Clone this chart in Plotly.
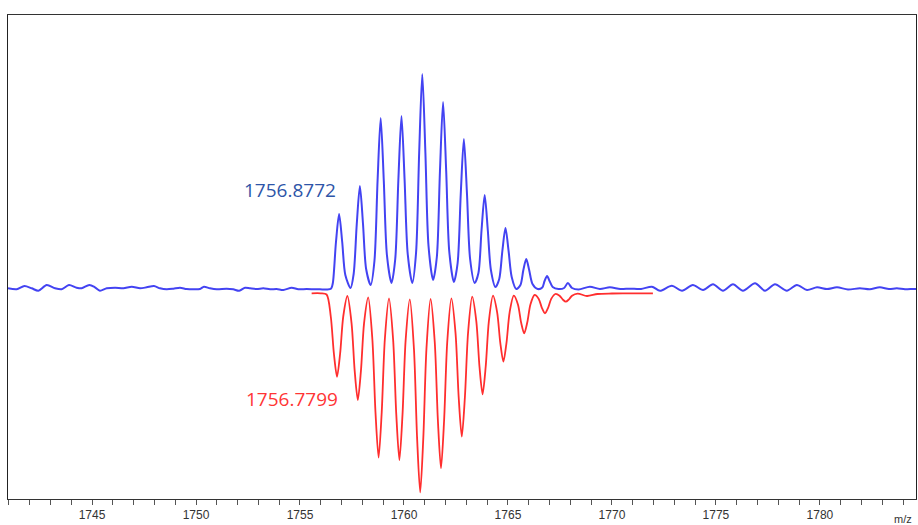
import plotly.graph_objects as go

# Blue (measured) spectrum: m/z and intensity (arbitrary units, baseline = 0)
blue_mz = [
    1740.96, 1741.38, 1741.75, 1742.10, 1742.42, 1742.82, 1743.22, 1743.54, 1743.89, 1744.26,
    1744.50, 1744.87, 1745.14, 1745.38, 1745.71, 1746.11, 1746.51, 1746.91, 1747.31, 1747.63,
    1747.98, 1748.27, 1748.59, 1748.91, 1749.23, 1749.55, 1749.87, 1750.19, 1750.38, 1750.67,
    1751.00, 1751.47, 1751.79, 1752.08, 1752.36, 1752.60, 1752.92, 1753.24, 1753.56, 1753.88,
    1754.20, 1754.60, 1754.92, 1755.32, 1755.72, 1755.96, 1756.30, 1756.50,
    1756.58, 1756.73, 1756.88, 1757.03, 1757.18, 1757.43,
    1757.58, 1757.73, 1757.88, 1758.03, 1758.18, 1758.40,
    1758.58, 1758.73, 1758.88, 1759.03, 1759.18, 1759.40,
    1759.58, 1759.73, 1759.88, 1760.03, 1760.18, 1760.40,
    1760.58, 1760.73, 1760.88, 1761.03, 1761.18, 1761.40,
    1761.58, 1761.73, 1761.88, 1762.03, 1762.18, 1762.40,
    1762.58, 1762.73, 1762.88, 1763.03, 1763.18, 1763.40,
    1763.58, 1763.73, 1763.88, 1764.03, 1764.18, 1764.40,
    1764.58, 1764.73, 1764.88, 1765.03, 1765.18, 1765.40,
    1765.60, 1765.74, 1765.88, 1766.02, 1766.18, 1766.43,
    1766.65, 1766.76, 1766.88, 1767.00, 1767.15, 1767.43,
    1767.70, 1767.88, 1768.08, 1768.40, 1768.94, 1769.42, 1769.90, 1770.40,
    1770.87, 1771.40, 1771.92, 1772.31, 1772.88, 1773.37, 1773.89, 1774.38, 1774.86, 1775.34,
    1775.82, 1776.30, 1776.88, 1777.36, 1777.84, 1778.41, 1778.89, 1779.38, 1779.86, 1780.34,
    1780.82, 1781.35, 1781.92, 1782.40, 1782.88, 1783.32, 1783.70, 1784.09, 1784.47, 1784.62,
]
blue_int = [
    0.7, -0.3, 3.0, 0.7, -1.7, 4.0, 0.7, -0.3, 4.0, 1.3,
    0.7, 4.0, 1.7, -1.7, 0.7, 1.3, 0.7, 2.3, 0.7, 1.7,
    3.0, 0.7, -0.3, 0.3, 1.3, 0.0, -0.3, 0.0, 2.3, 0.7,
    -0.3, 0.3, -0.3, -1.7, 1.3, 0.7, 0.0, 0.7, -0.3, 0.0,
    -1.0, 1.3, -0.3, 0.0, -0.3, -0.3, -0.5, 0.5,
    6, 47, 75, 47, 14, 1,
    15, 65, 103, 65, 20, 4,
    28, 108, 171, 108, 34, 6,
    30, 109, 173, 109, 35, 6,
    36, 136, 215, 136, 43, 9,
    32, 118, 187, 118, 37, 7,
    26, 95, 150, 95, 30, 6,
    16, 59, 94, 59, 19, 2,
    10, 38, 61, 38, 12, 0,
    4, 19, 30, 19, 5, 0,
    1.5, 8, 13, 8, 2, 0,
    1, 6, 1, -0.5, 2.3, 0.0, 1.7, 0.0,
    0.3, 0.0, 2.3, -1.7, 3.3, -1.7, 4.0, -1.0, 4.7, -1.7,
    4.7, -1.7, 5.7, -1.7, 4.7, -1.7, 4.0, -1.0, 1.7, 0.0,
    1.7, -0.5, 0.7, -0.3, 1.7, 0.0, 0.7, -0.3, 0.0, 0.0,
]

# Red (theoretical) spectrum, drawn mirrored below the measured one
red_mz = [
    1755.56, 1756.00, 1756.28,
    1756.48, 1756.63, 1756.78, 1756.93, 1757.08, 1757.28,
    1757.48, 1757.63, 1757.78, 1757.93, 1758.08, 1758.28,
    1758.48, 1758.63, 1758.78, 1758.93, 1759.08, 1759.28,
    1759.48, 1759.63, 1759.78, 1759.93, 1760.08, 1760.28,
    1760.48, 1760.63, 1760.78, 1760.93, 1761.08, 1761.28,
    1761.48, 1761.63, 1761.78, 1761.93, 1762.08, 1762.28,
    1762.48, 1762.63, 1762.78, 1762.93, 1763.08, 1763.28,
    1763.48, 1763.63, 1763.78, 1763.93, 1764.08, 1764.28,
    1764.48, 1764.63, 1764.78, 1764.93, 1765.08, 1765.28,
    1765.48, 1765.63, 1765.78, 1765.93, 1766.08, 1766.28,
    1766.48, 1766.63, 1766.78, 1766.93, 1767.08, 1767.28,
    1767.48, 1767.63, 1767.78, 1767.93, 1768.08, 1768.35,
    1768.80, 1769.30, 1770.00, 1771.00, 1771.97,
]
red_int = [
    -4.3, -4.3, -5.5,
    -27.5, -64.5, -87.7, -64.5, -27.5, -7.0,
    -34.3, -81.9, -111.0, -81.9, -34.3, -8.3,
    -50.2, -123.2, -168.7, -123.2, -50.2, -9.3,
    -51.1, -125.4, -171.0, -125.4, -51.1, -10.3,
    -60.0, -148.6, -203.3, -148.6, -60.0, -10.0,
    -53.3, -131.2, -179.3, -131.2, -53.3, -9.3,
    -44.3, -108.0, -147.7, -108.0, -44.3, -7.7,
    -32.6, -77.5, -105.3, -77.5, -32.6, -6.7,
    -23.3, -53.6, -72.7, -53.6, -23.3, -6.7,
    -15.5, -33.3, -44.3, -33.3, -15.5, -6.0,
    -9.9, -18.8, -24.3, -18.8, -9.9, -5.0,
    -6.7, -10.4, -12.7, -10.4, -6.7, -4.6,
    -7.0, -5.0, -4.5, -4.3, -4.3,
]

labels = ["1756.8772", "1756.7799"]
label_mz = [1754.52, 1754.62]
label_int = [99, -110]

tick_vals = [1745, 1750, 1755, 1760, 1765, 1770, 1775, 1780]
tick_text = [str(v) for v in tick_vals]

BLUE = "#4343f2"
RED = "#ff2e2e"

fig = go.Figure()
fig.add_trace(go.Scatter(x=red_mz, y=red_int, mode="lines",
                         line=dict(color=RED, width=1.8, shape="spline", smoothing=0.8),
                         hoverinfo="skip", showlegend=False))
fig.add_trace(go.Scatter(x=blue_mz, y=blue_int, mode="lines",
                         line=dict(color=BLUE, width=2.0, shape="spline", smoothing=0.8),
                         hoverinfo="skip", showlegend=False))

fig.add_annotation(x=label_mz[0], y=label_int[0], text=labels[0], showarrow=False,
                   font=dict(family="Open Sans", size=19, color="#2e55a8"))
fig.add_annotation(x=label_mz[1], y=label_int[1], text=labels[1], showarrow=False,
                   font=dict(family="Open Sans", size=19, color="#ff3535"))
fig.add_annotation(x=1, y=0, xref="paper", yref="paper", xanchor="right", yanchor="top",
                   xshift=-2, yshift=-12, text="m/z", showarrow=False,
                   font=dict(family="Liberation Sans", size=11, color="#333333"))

fig.update_layout(
    width=918, height=525,
    margin=dict(l=8, r=2, t=15, b=26),
    paper_bgcolor="white", plot_bgcolor="white",
    showlegend=False,
    xaxis=dict(range=[1740.96, 1784.62], tickvals=tick_vals, ticktext=tick_text,
               ticks="outside", ticklen=5, tickcolor="#555555", tickwidth=1,
               minor=dict(dtick=1, tick0=1745, ticks="outside", ticklen=5,
                          tickcolor="#555555", showgrid=False),
               showgrid=False, zeroline=False, showline=True, linecolor="#333333",
               linewidth=1, mirror=True,
               tickfont=dict(family="Liberation Sans", size=12, color="#333333")),
    yaxis=dict(range=[-210, 274], showticklabels=False, ticks="", showgrid=False,
               zeroline=False, showline=True, linecolor="#222222", linewidth=1,
               mirror=True),
)

fig.write_html("out.html")
